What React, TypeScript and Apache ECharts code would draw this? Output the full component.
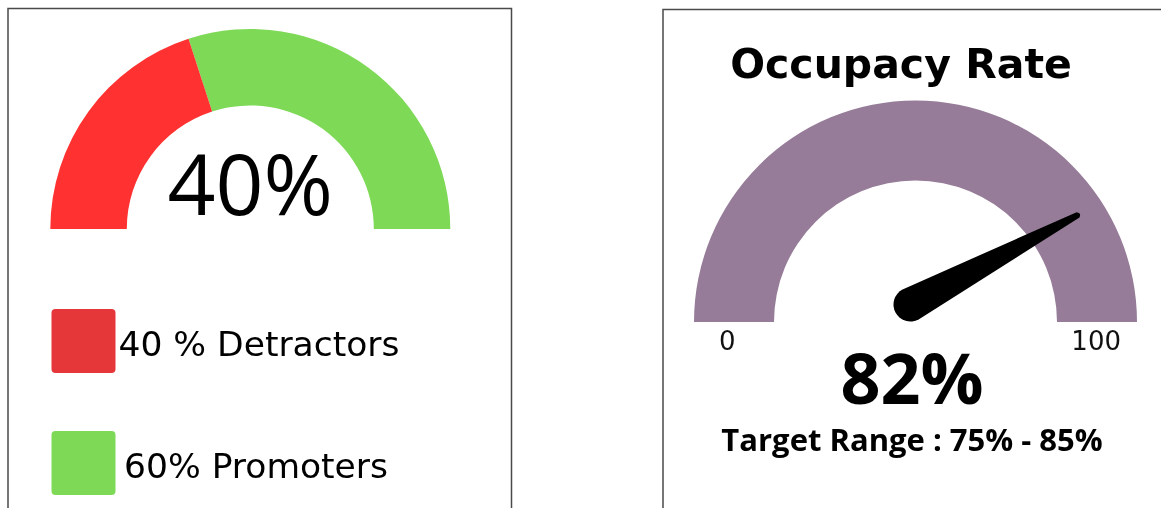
import React, { useEffect, useRef } from 'react';
import * as echarts from 'echarts';

const npsCategories = ['Detractors', 'Promoters'];
const npsValues = [40, 60];
const npsLegendLabels = ['40 % Detractors', '60% Promoters'];
const npsScore = 40;

const occupancyTitle = 'Occupacy Rate';
const occupancyValue = 82;
const occupancyMin = 0;
const occupancyMax = 100;
const occupancyTarget = 'Target Range : 75% - 85%';

const FONT = '"Open Sans", sans-serif';
const WIDE = '"DejaVu Sans", sans-serif';
const arcColors = ['#FF3131', '#7ED957'];
const legendColors = ['#E5363A', '#7ED957'];
const purple = '#967C98';

const NEEDLE = 'path://M14 3 Q17 -1 20 3 L34 192 A17 17 0 0 1 0 192 Z';

export default function App() {
  const ref = useRef<HTMLDivElement>(null);
  useEffect(() => {
    if (!ref.current) return;
    const chart = echarts.init(ref.current, null, { renderer: 'svg' });
    const total = npsValues.reduce((a, b) => a + b, 0);
    let acc = 0;
    const segs = npsValues.map((v, i) => {
      acc += v;
      return [acc / total, arcColors[i]];
    });
    const legendY = [309, 431];
    const legendGraphics: any[] = [];
    npsCategories.forEach((c, i) => {
      legendGraphics.push({
        type: 'rect',
        shape: { x: 51.5, y: legendY[i], width: 64, height: 64, r: 4 },
        style: { fill: legendColors[i] },
      });
      legendGraphics.push({
        type: 'text',
        x: i === 0 ? 118.5 : 124,
        y: legendY[i] + 35,
        style: {
          text: npsLegendLabels[i],
          font: `34.5px ${WIDE}`,
          fill: '#000',
          align: 'left',
          verticalAlign: 'middle',
        },
      });
    });

    chart.setOption({
      animation: false,
      graphic: [
        {
          type: 'rect',
          shape: { x: 8, y: 8.5, width: 503.5, height: 600 },
          style: { fill: 'none', stroke: '#4a4a4a', lineWidth: 1.5 },
        },
        {
          type: 'rect',
          shape: { x: 663, y: 9.5, width: 600, height: 600 },
          style: { fill: 'none', stroke: '#4a4a4a', lineWidth: 1.5 },
        },
        ...legendGraphics,
        {
          type: 'text',
          x: 901,
          y: 64,
          style: {
            text: occupancyTitle,
            font: `bold 41px ${WIDE}`,
            fill: '#000',
            align: 'center',
            verticalAlign: 'middle',
          },
        },
      ],
      series: [
        {
          type: 'gauge',
          center: [250.3, 229],
          radius: 200,
          startAngle: 180,
          endAngle: 0,
          min: 0,
          max: 100,
          axisLine: { lineStyle: { width: 76.5, color: segs } },
          pointer: { show: false },
          progress: { show: false },
          axisTick: { show: false },
          splitLine: { show: false },
          axisLabel: { show: false },
          anchor: { show: false },
          title: { show: false },
          detail: {
            formatter: '{value}%',
            offsetCenter: [0, -47],
            fontSize: 84,
            fontFamily: FONT,
            fontWeight: 'normal',
            color: '#000',
          },
          data: [{ value: npsScore, name: 'NPS' }],
        },
        {
          type: 'gauge',
          center: [915.5, 322],
          radius: 221.5,
          startAngle: 180,
          endAngle: 0,
          min: occupancyMin,
          max: occupancyMax,
          splitNumber: 1,
          axisLine: { lineStyle: { width: 80, color: [[1, purple]] } },
          pointer: { show: false },
          progress: { show: false },
          axisTick: { show: false },
          splitLine: { show: false, length: 0, distance: 0 },
          axisLabel: {
            show: true,
            distance: 16,
            formatter: (v: number) => `{t|${v}}`,
            rich: {
              t: {
                padding: [38, 0, 0, 9],
                fontSize: 26,
                fontFamily: WIDE,
                color: '#111',
              },
            },
          },
          anchor: { show: false },
          title: {
            show: true,
            offsetCenter: [-3.5, 116.5],
            fontSize: 31,
            fontWeight: 'bold',
            fontFamily: FONT,
            color: '#000',
          },
          detail: {
            formatter: '{value}%',
            offsetCenter: [-3.5, 54.5],
            fontSize: 70,
            fontWeight: 'bold',
            fontFamily: FONT,
            color: '#000',
          },
          data: [{ value: occupancyValue, name: occupancyTarget }],
        },
        {
          type: 'gauge',
          center: [910.5, 304.5],
          radius: 200,
          startAngle: 180,
          endAngle: -5.2,
          min: occupancyMin,
          max: occupancyMax,
          axisLine: { show: false },
          progress: { show: false },
          axisTick: { show: false },
          splitLine: { show: false },
          axisLabel: { show: false },
          anchor: { show: false },
          title: { show: false },
          detail: { show: false },
          pointer: {
            show: true,
            icon: NEEDLE,
            length: 209,
            width: 34,
            offsetCenter: [0, 17],
            itemStyle: { color: '#000' },
          },
          data: [{ value: occupancyValue }],
        },
      ],
    });
    return () => chart.dispose();
  }, []);
  return (
    <div
      ref={ref}
      style={{ position: 'fixed', left: 0, top: 0, width: 1161, height: 508 }}
    />
  );
}
